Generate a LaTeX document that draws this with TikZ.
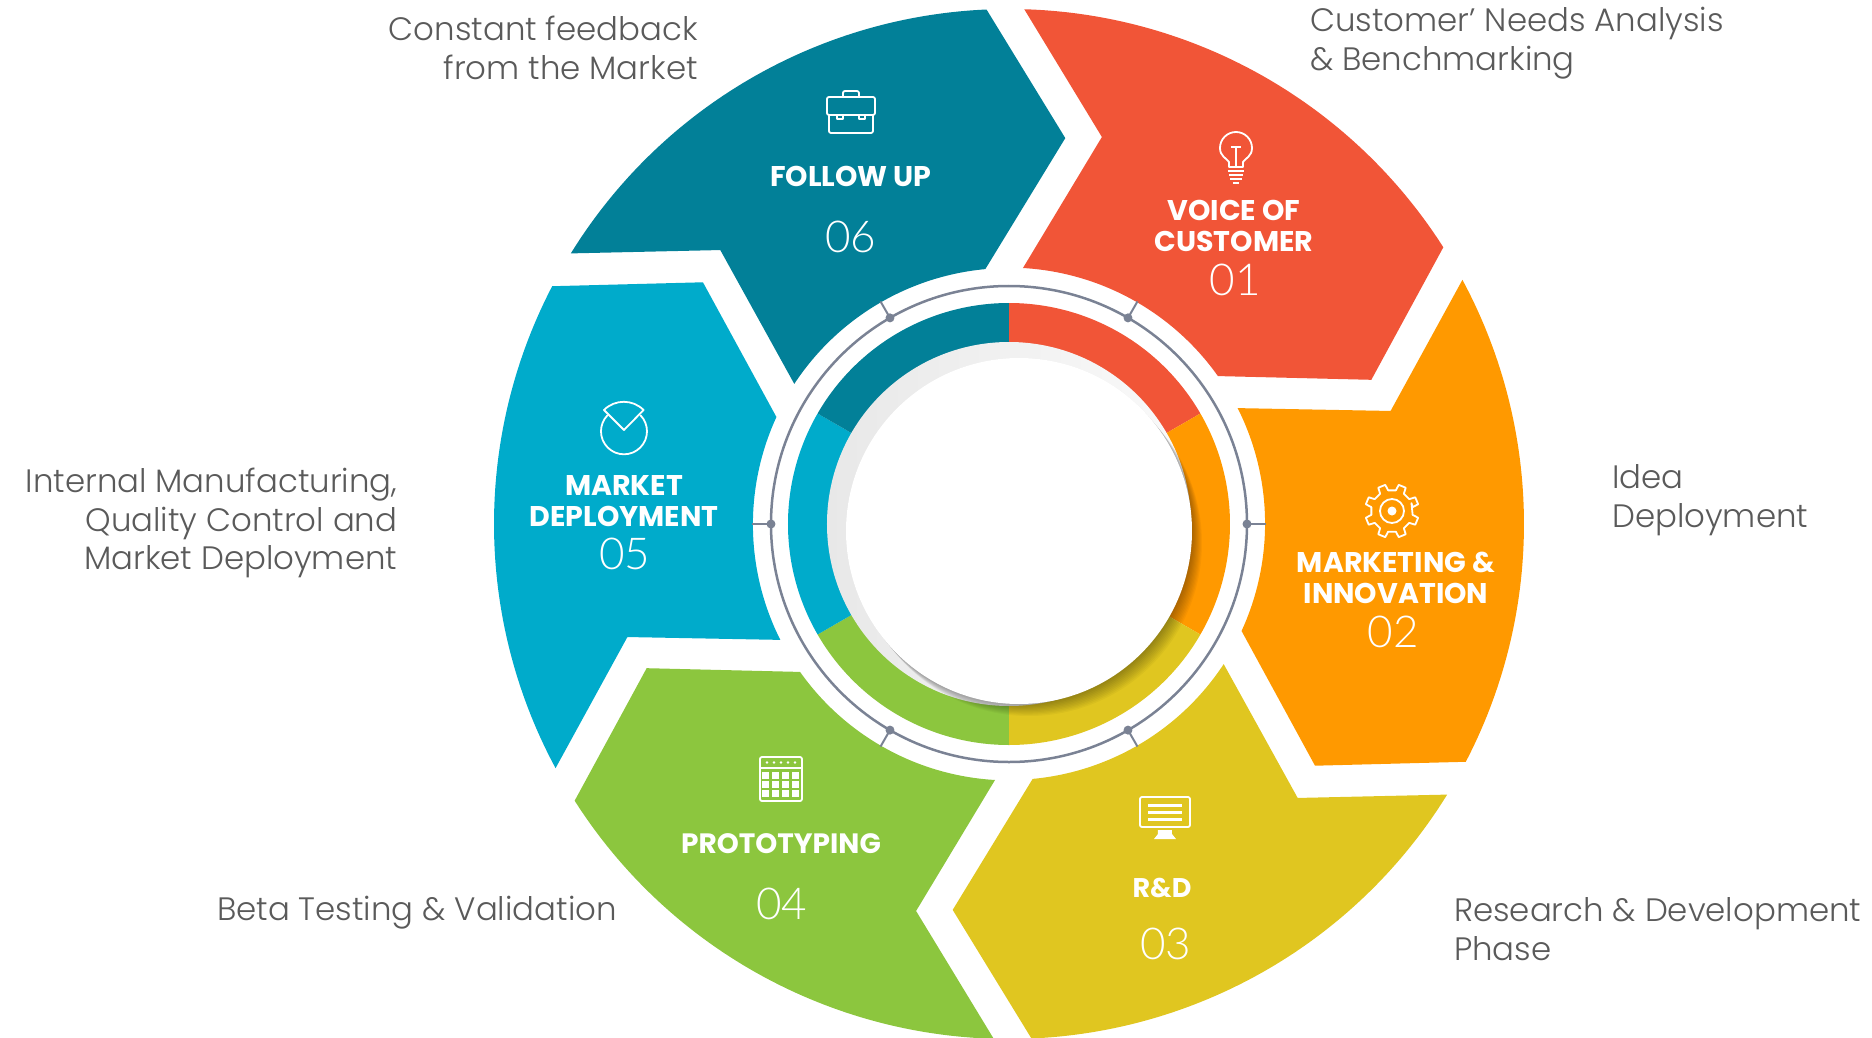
\documentclass[tikz,border=0pt]{standalone}
\usepackage{fontspec}
\usepackage{tikz}
\setmainfont{Poppins}
\newfontfamily\numfont{Lato Light}
\newfontfamily\sidefont{Poppins Light}
\definecolor{voicered}{HTML}{F15537}
\definecolor{mktorange}{HTML}{FF9900}
\definecolor{rdyellow}{HTML}{E0C620}
\definecolor{protogreen}{HTML}{8CC63E}
\definecolor{deployblue}{HTML}{00ABCB}
\definecolor{followteal}{HTML}{028098}
\definecolor{ringgray}{HTML}{7A8294}
\definecolor{sidegray}{HTML}{5A5A5A}
\tikzset{
  title/.style={text=white,font=\fontsize{28.5}{31}\selectfont\bfseries,align=center,inner sep=0pt},
  num/.style={text=white,font=\fontsize{44}{44}\numfont,inner sep=0pt},
  side/.style={text=sidegray,font=\fontsize{32.4}{38.6}\sidefont,inner sep=0pt},
  icon/.style={white,line width=1.8pt,line join=round}
}
\begin{document}
\begin{tikzpicture}[x=1pt,y=1pt]
\useasboundingbox (-1009,-513) rectangle (863,524);
\foreach \rot/\col in {0/voicered,-60/mktorange,-120/rdyellow,-180/protogreen,-240/deployblue,-300/followteal}{
  \fill[\col,rotate=\rot] (88.3:515) arc[start angle=88.3,end angle=32.5,radius=515] -- (21.7:390) -- (35.3:256)
    arc[start angle=35.3,end angle=86.7,radius=257] -- (76.5:398) -- cycle;
  \fill[\col,rotate=\rot] (0,0) -- (90:221) arc[start angle=90,end angle=30,radius=221] -- cycle;
}
\draw[ringgray,line width=2.5pt] (0,0) circle (238);
\foreach \a in {0,60,...,300}{
  \draw[ringgray,line width=2pt] (\a:238) -- (\a:257);
  \fill[ringgray] (\a:238) circle (4.5);
}
\shade[left color=black!9,right color=black!2] (0,0) circle (182);
\foreach \k in {0,2,...,20}{
  \fill[black,opacity=.035] (10+\k*.5,-7-\k*.6) circle (173);
}
\fill[white] (10,-7) circle (173);

\node[title] (followt) at (-158,348) {FOLLOW UP};
\node[num] (follown) at (-158,287) {06};
\node[title] (voicet) at (225,298) {VOICE OF\\CUSTOMER};
\node[num] (voicen) at (226,244) {01};
\node[title] (mktt) at (387,-54) {MARKETING \&\\INNOVATION};
\node[num] (mktn) at (384,-108) {02};
\node[title,font=\fontsize{27}{32}\selectfont\bfseries] (rdt) at (153,-364) {R\&D};
\node[num] (rdn) at (157,-420) {03};
\node[title,font=\fontsize{28}{32}\selectfont\bfseries] (protot) at (-228,-320) {PROTOTYPING};
\node[num] (proton) at (-227,-380) {04};
\node[title] (deployt) at (-385,23) {MARKET\\DEPLOYMENT};
\node[num] (deployn) at (-384,-30) {05};

\node[side,align=right,anchor=east] (sidefollow) at (-311,476) {Constant feedback\\from the Market};
\node[side,align=left,anchor=west] (sidevoice) at (301,481) {Customer’ Needs Analysis\\\& Benchmarking};
\node[side,align=left,anchor=west] (sidemkt) at (603,24) {Idea\\Deployment};
\node[side,align=left,anchor=west] (siderd) at (445,-405) {Research \& Development\\Phase};
\node[side,align=right,anchor=east] (sideproto) at (-392,-388.5) {Beta Testing \& Validation};
\node[side,align=right,anchor=east] (sidedeploy) at (-611.5,1) {Internal Manufacturing,\\Quality Control and\\Market Deployment};

\begin{scope}[shift={(-158,412)},icon]
\draw[rounded corners=2] (-8,15) -- (-8,21) -- (8,21) -- (8,15);
\draw[rounded corners=2] (-24,15) rectangle (24,-3);
\draw[rounded corners=2] (-22,-3) -- (-22,-21) -- (22,-21) -- (22,-3);
\draw (-14,-3) -- (-14,-7) -- (-8,-7) -- (-8,-3);
\draw (14,-3) -- (14,-7) -- (8,-7) -- (8,-3);
\end{scope}

\begin{scope}[shift={(227,365)},icon]
\draw (-7,-8) -- (-7,-3) .. controls (-10,1) and (-16,3) .. (-16,11)
  arc[start angle=180,end angle=0,radius=16] .. controls (16,3) and (10,1) .. (7,-3) -- (7,-8) -- cycle;
\draw (-5,12) -- (5,12) (0,12) -- (0,-8);
\draw (-8,-12) -- (8,-12) (-7,-16) -- (7,-16) (-6,-20) -- (6,-20) (-3,-24) -- (3,-24);
\end{scope}

\begin{scope}[shift={(383,13)},icon]
\draw (22:21) \foreach \g in {0,45,...,315}{ -- (\g+22.5-12:21) -- (\g+22.5-8:27) -- (\g+22.5+8:27) -- (\g+22.5+12:21) } -- cycle;
\draw (0,0) circle (12);
\fill[white] (0,0) circle (4.5);
\end{scope}

\begin{scope}[shift={(156,-294)},icon]
\draw[rounded corners=2] (-25,21) rectangle (25,-9);
\draw[line width=3pt] (-17,13) -- (17,13) (-17,6) -- (17,6) (-17,-1) -- (17,-1);
\fill[white] (-7,-12) -- (7,-12) -- (7,-16) -- (11,-21) -- (-11,-21) -- (-7,-16) -- cycle;
\end{scope}

\begin{scope}[shift={(-228,-255)},icon]
\draw[rounded corners=2] (-21,22) rectangle (21,-22);
\draw (-21,11) -- (21,11);
\foreach \x in {-14,-7,...,14}{ \fill[white] (\x,16.5) circle (1.4); }
\foreach \x in {-15,-5,5,15}{
  \foreach \y in {4,-5,-14}{ \fill[white] (\x-3.5,\y-3.5) rectangle (\x+3.5,\y+3.5); }
}
\end{scope}

\begin{scope}[shift={(-385,95)},icon]
\draw (0,-2.3) ++(45:23) arc[start angle=45,end angle=-225,radius=23];
\draw (0,-1) -- (-20,19) arc[start angle=135,end angle=45,radius=28] -- cycle;
\end{scope}
\end{tikzpicture}
\end{document}
